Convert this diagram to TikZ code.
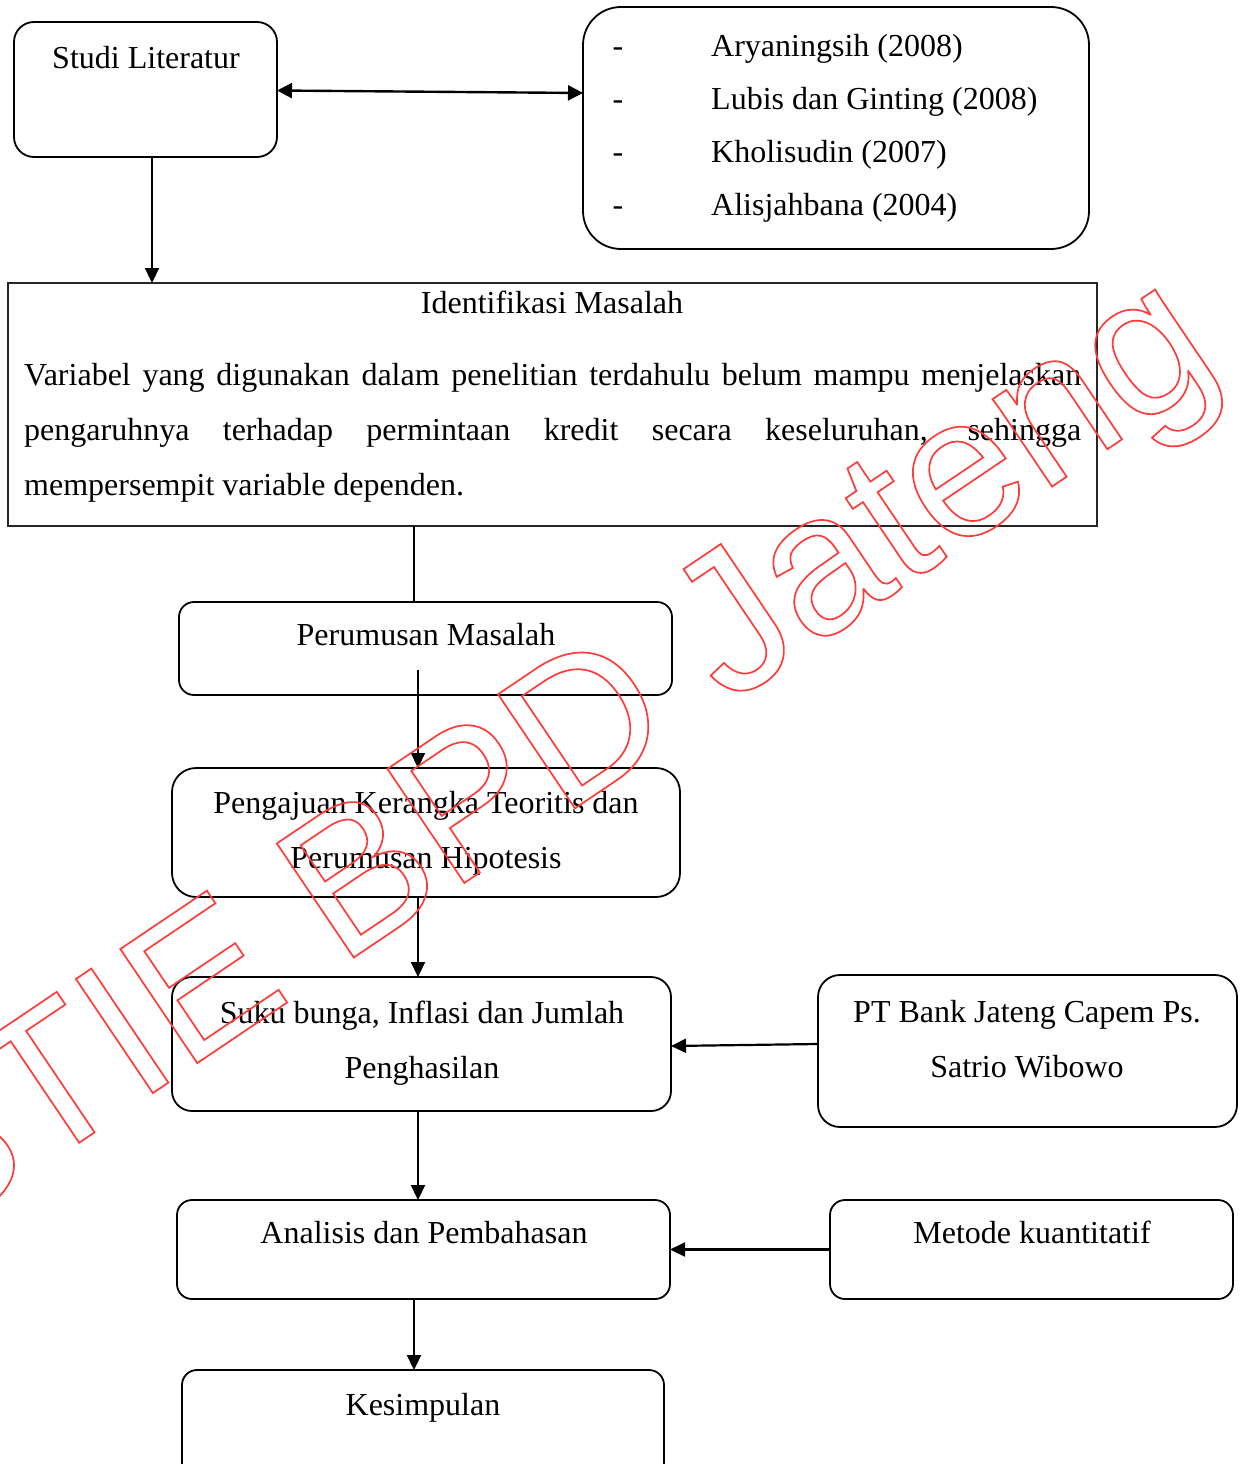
\documentclass[tikz,border=0pt]{standalone}
\usepackage{fontspec}
\setmainfont{Liberation Serif}
\newfontfamily\wmfont{Liberation Sans}
\usetikzlibrary{arrows.meta}
\definecolor{wmred}{RGB}{255,60,60}
\begin{document}
\begin{tikzpicture}[x=1pt,y=-1pt,
  rbox/.style={draw, line width=1.8pt, inner sep=0pt, outer sep=0pt},
  txt/.style={anchor=base, inner sep=0pt, font=\fontsize{32}{38}\selectfont},
  arr/.style={line width=2.2pt, -{Triangle[length=15pt,width=14pt]}},
  arrr/.style={line width=2.4pt, {Triangle[length=15pt,width=15pt]}-{Triangle[length=15pt,width=15pt]}},
  plain/.style={line width=2.2pt}]
\useasboundingbox (0,0) rectangle (1244,1464);
\clip (0,0) rectangle (1244,1464);
\fill[white] (0,0) rectangle (1244,1464);

% boxes
\node[rbox, rounded corners=20pt, minimum width=263pt, minimum height=135pt] (studi) at (145.5,89.5) {};
\node[rbox, rounded corners=38pt, minimum width=506pt, minimum height=242pt] (refs) at (836,128) {};
\node[draw=black!85, line width=1.2pt, inner sep=0pt, outer sep=0pt, minimum width=1089pt, minimum height=243pt] (ident) at (552.5,404.5) {};
\node[rbox, rounded corners=15pt, minimum width=493pt, minimum height=93pt] (perum) at (425.5,648.5) {};
\node[rbox, rounded corners=24pt, minimum width=508pt, minimum height=129pt] (peng) at (426,832.5) {};
\node[rbox, rounded corners=20pt, minimum width=499pt, minimum height=134pt] (suku) at (421.5,1044) {};
\node[rbox, rounded corners=22pt, minimum width=419pt, minimum height=152pt] (bank) at (1027.5,1051) {};
\node[rbox, rounded corners=15pt, minimum width=493pt, minimum height=99pt] (anal) at (423.5,1249.5) {};
\node[rbox, rounded corners=15pt, minimum width=403pt, minimum height=99pt] (metode) at (1031.5,1249.5) {};
\node[rbox, rounded corners=15pt, minimum width=482pt, minimum height=130pt] (kesim) at (423,1435) {};

% texts
\node[txt] (tstudi) at (146,68) {Studi Literatur};
\node[txt] (d1) at (618,57) {-};
\node[txt] (d2) at (618,109) {-};
\node[txt] (d3) at (618,162) {-};
\node[txt] (d4) at (618,215) {-};
\node[txt, anchor=base west] (r1) at (711,57) {Aryaningsih (2008)};
\node[txt, anchor=base west] (r2) at (711,109) {Lubis dan Ginting (2008)};
\node[txt, anchor=base west] (r3) at (711,162) {Kholisudin (2007)};
\node[txt, anchor=base west] (r4) at (711,215) {Alisjahbana (2004)};
\node[txt] (tident) at (552,313) {Identifikasi Masalah};
\node[txt, anchor=base west] (p1) at (24,385) {\makebox[1057pt][s]{Variabel yang digunakan dalam penelitian terdahulu belum mampu menjelaskan}};
\node[txt, anchor=base west] (p2) at (24,440) {\makebox[1057pt][s]{pengaruhnya terhadap permintaan kredit secara keseluruhan, sehingga}};
\node[txt, anchor=base west] (p3) at (24,495) {mempersempit variable dependen.};
\node[txt] (tperum) at (426,645) {Perumusan Masalah};
\node[txt] (tpeng1) at (426,813) {Pengajuan Kerangka Teoritis dan};
\node[txt] (tpeng2) at (426,868) {Perumusan Hipotesis};
\node[txt] (tsuku1) at (422,1023) {Suku bunga, Inflasi dan Jumlah};
\node[txt] (tsuku2) at (422,1078) {Penghasilan};
\node[txt] (tbank1) at (1027,1022) {PT Bank Jateng Capem Ps.};
\node[txt] (tbank2) at (1027,1077) {Satrio Wibowo};
\node[txt] (tanal) at (424,1243) {Analisis dan Pembahasan};
\node[txt] (tmet) at (1032,1243) {Metode kuantitatif};
\node[txt] (tkes) at (423,1415) {Kesimpulan};

% connector columns
\coordinate (cA) at (152,0);
\coordinate (cB) at (414,0);
\coordinate (cC) at (418,670);
\coordinate (cD) at (418,0);

% connectors
\draw[arrr] ([yshift=-1pt]studi.east) -- ([yshift=35pt]refs.west);
\draw[arr] (studi.south -| cA) -- (ident.north -| cA);
\draw[plain] (ident.south -| cB) -- (perum.north -| cB);
\draw[arr] (cC) -- (cC |- peng.north);
\draw[arr] (peng.south -| cD) -- (suku.north -| cD);
\draw[arr] ([yshift=7pt]bank.west) -- ([yshift=-2pt]suku.east);
\draw[arr] (suku.south -| cD) -- (anal.north -| cD);
\draw[arr] (metode.west) -- (anal.east);
\draw[arr] (anal.south -| cB) -- (kesim.north -| cB);

% watermark (outlined text)
\node[rotate=34, anchor=base west, inner sep=0pt, text=wmred, font=\wmfont\fontsize{200}{200}\selectfont] (wm) at (-74.5,1246.4)
  {\special{pdf:literal direct 1 Tr 1.7 w}STIE BPD Jateng\special{pdf:literal direct 0 Tr}};
\end{tikzpicture}
\end{document}
